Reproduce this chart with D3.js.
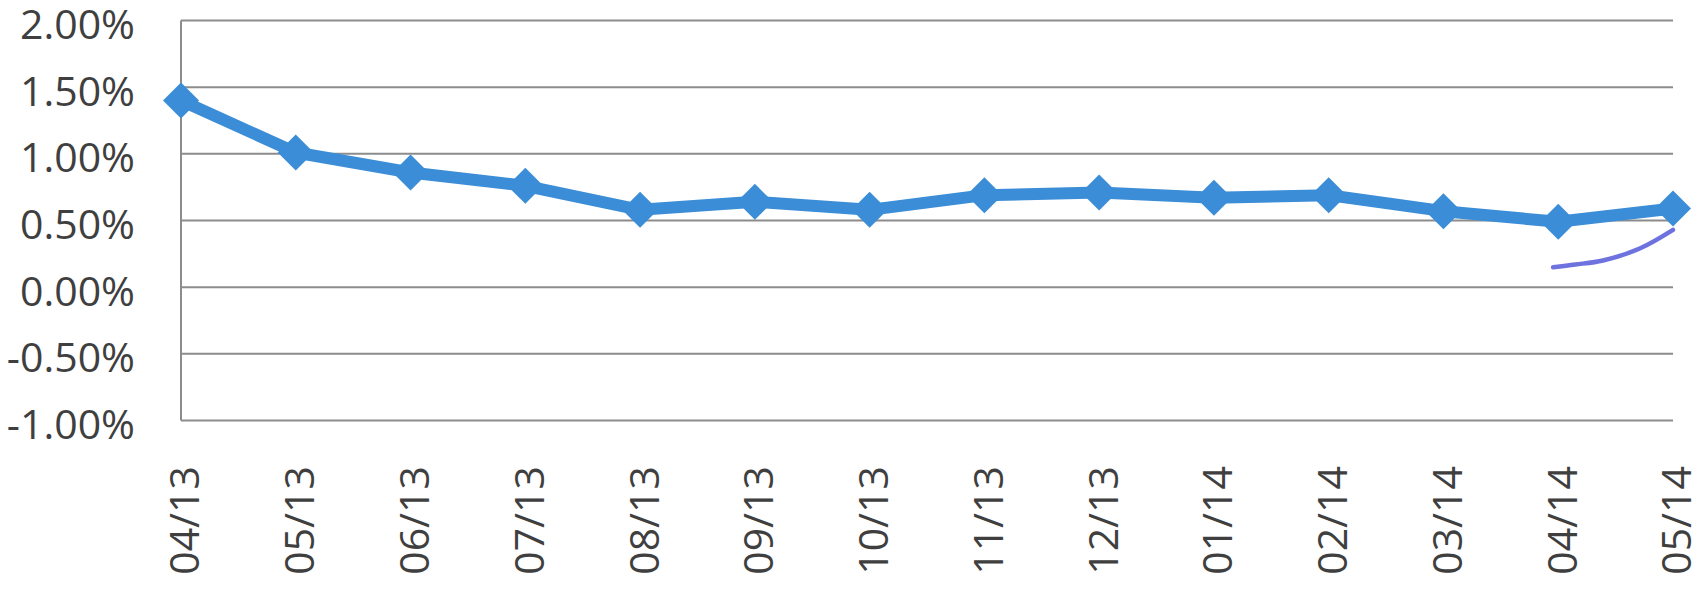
<!DOCTYPE html>
<html>
<head>
<meta charset="utf-8">
<script src="https://cdn.jsdelivr.net/npm/d3@7"></script>
<style>
  html, body { margin: 0; padding: 0; background: #fff; }
  svg { display: block; }
</style>
</head>
<body>
<svg id="chart" width="1692" height="589"></svg>
<script>
// ---- data ----
const categories = ["04/13","05/13","06/13","07/13","08/13","09/13","10/13","11/13","12/13","01/14","02/14","03/14","04/14","05/14"];
const values = [1.40, 1.01, 0.86, 0.76, 0.58, 0.64, 0.58, 0.69, 0.71, 0.67, 0.69, 0.57, 0.49, 0.59];
const yTicks = [-1.0, -0.5, 0.0, 0.5, 1.0, 1.5, 2.0];
// hand-drawn pen stroke (category position, value)
const penIdx = [11.955, 12.15, 12.39, 12.71, 13.0];
const penVal = [0.15, 0.17, 0.20, 0.29, 0.43];

// ---- layout ----
const plotLeft = 181, plotRight = 1673, plotTop = 20.5, plotBottom = 420.5;
const svg = d3.select("#chart");
const x = d3.scalePoint().domain(categories).range([plotLeft, plotRight]).padding(0);
const xi = d3.scaleLinear().domain([0, categories.length - 1]).range([plotLeft, plotRight]);
const y = d3.scaleLinear().domain([-1, 2]).range([plotBottom, plotTop]);

const gridColor = "#8c8c8c";
const textColor = "#3f3f3f";
const font = "'Open Sans', 'Liberation Sans', sans-serif";

// gridlines
svg.append("g").selectAll("line").data(yTicks).join("line")
  .attr("x1", plotLeft).attr("x2", plotRight)
  .attr("y1", d => y(d)).attr("y2", d => y(d))
  .attr("stroke", gridColor).attr("stroke-width", 2);

// left axis line
svg.append("line")
  .attr("x1", plotLeft).attr("x2", plotLeft)
  .attr("y1", y(2)).attr("y2", y(-1))
  .attr("stroke", gridColor).attr("stroke-width", 2);

// y labels
const fmt = d3.format(".2f");
svg.append("g").selectAll("text").data(yTicks).join("text")
  .attr("x", 135).attr("y", d => y(d))
  .attr("dy", "0.45em")
  .attr("text-anchor", "end")
  .attr("font-family", font).attr("font-size", 41)
  .attr("fill", textColor)
  .text(d => fmt(d).replace("\u2212", "-") + "%");

// x labels (rotated)
svg.append("g").selectAll("text").data(categories).join("text")
  .attr("transform", d => `translate(${x(d)},466) rotate(-90)`)
  .attr("dy", "0.45em")
  .attr("text-anchor", "end")
  .attr("font-family", font).attr("font-size", 41)
  .attr("fill", textColor)
  .text(d => d);

// series line
const blue = "#3a8dd6";
const line = d3.line().x((d, i) => x(categories[i])).y(d => y(d));
svg.append("path").datum(values)
  .attr("d", line)
  .attr("fill", "none")
  .attr("stroke", blue).attr("stroke-width", 12)
  .attr("stroke-linejoin", "round");

// diamond markers
const r = 18;
svg.append("g").selectAll("path").data(values).join("path")
  .attr("d", (d, i) => {
    const cx = x(categories[i]), cy = y(d);
    return `M${cx},${cy - r}L${cx + r},${cy}L${cx},${cy + r}L${cx - r},${cy}Z`;
  })
  .attr("fill", blue);

// pen annotation
const pen = d3.line().curve(d3.curveCatmullRom)
  .x((d, i) => xi(penIdx[i])).y(d => y(d));
svg.append("path").datum(penVal)
  .attr("d", pen)
  .attr("fill", "none")
  .attr("stroke", "#5559d8").attr("stroke-width", 4.5)
  .attr("stroke-linecap", "round")
  .attr("opacity", 0.85);
</script>
</body>
</html>
